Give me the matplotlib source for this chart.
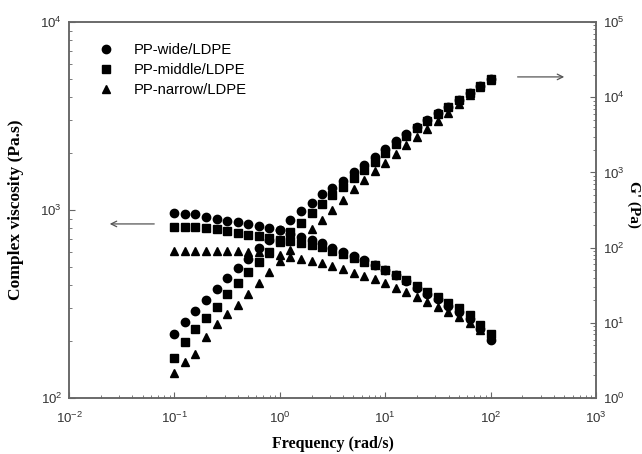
import numpy as np
import matplotlib.pyplot as plt
from matplotlib.ticker import LogLocator, NullFormatter

plt.rcParams['font.family'] = ['Liberation Sans', 'DejaVu Sans']
plt.rcParams['mathtext.default'] = 'regular'

freq = [0.1, 0.126, 0.158, 0.2, 0.251, 0.316, 0.398, 0.501, 0.631, 0.794,
        1.0, 1.26, 1.58, 2.0, 2.51, 3.16, 3.98, 5.01, 6.31, 7.94,
        10.0, 12.6, 15.8, 20.0, 25.1, 31.6, 39.8, 50.1, 63.1, 79.4, 100.0]

# complex viscosity (Pa.s)
eta_wide = [964, 953, 950, 918, 894, 873, 862, 842, 821, 801,
            780, 750, 720, 690, 665, 625, 600, 570, 540, 512,
            480, 450, 417, 386, 358, 335, 307, 287, 262, 232, 203]
eta_middle = [812, 812, 812, 801, 792, 772, 753, 736, 728, 709,
              692, 684, 669, 652, 636, 604, 583, 556, 530, 507,
              480, 453, 422, 393, 367, 346, 320, 301, 278, 246, 218]
eta_narrow = [605, 605, 605, 605, 605, 603, 602, 600, 598, 590,
              576, 562, 548, 535, 522, 503, 485, 462, 446, 430,
              409, 385, 366, 345, 324, 305, 287, 270, 251, 230, 211]

# storage modulus G' (Pa)
g_wide = [7.1, 10.3, 14.4, 20.1, 28.1, 39.4, 53.5, 70.5, 98.8, 126,
          171, 233, 307, 392, 516, 621, 769, 1012, 1254, 1603,
          2070, 2620, 3240, 4020, 4940, 6170, 7410, 9190, 11400, 14000, 17400]
g_middle = [3.4, 5.6, 8.3, 11.6, 16.2, 24.2, 33.8, 47.4, 64.3, 87.4,
            119, 161, 212, 288, 380, 500, 640, 843, 1077, 1375,
            1811, 2390, 3040, 3880, 4800, 5950, 7410, 9190, 11400, 14000, 17400]
g_narrow = [2.15, 3.0, 3.85, 6.5, 9.6, 13.1, 17.3, 24.2, 33.8, 47.4,
            66.4, 93, 126, 177, 233, 316, 430, 601, 793, 1045,
            1334, 1757, 2310, 2960, 3780, 4830, 6170, 8120, 10700, 13700, 17000]

labels = ['PP-wide/LDPE', 'PP-middle/LDPE', 'PP-narrow/LDPE']

fig = plt.figure(figsize=(6.42, 4.54), dpi=100)
ax = fig.add_axes([0.1075, 0.1233, 0.8208, 0.8282])
ax2 = ax.twinx()

ax.plot(freq, eta_wide, 'o', color='black', ms=6, label=labels[0])
ax.plot(freq, eta_middle, 's', color='black', ms=5.5, label=labels[1])
ax.plot(freq, eta_narrow, '^', color='black', ms=6, label=labels[2])
ax2.plot(freq, g_wide, 'o', color='black', ms=6)
ax2.plot(freq, g_middle, 's', color='black', ms=5.5)
ax2.plot(freq, g_narrow, '^', color='black', ms=6)

ax.set_xscale('log')
ax.set_yscale('log')
ax2.set_yscale('log')
ax.set_xlim(1e-2, 1e3)
ax.set_ylim(1e2, 1e4)
ax2.set_ylim(1e0, 1e5)

spine_col = '#666666'
for a in (ax, ax2):
    for s in a.spines.values():
        s.set_color(spine_col)
        s.set_linewidth(1.1)

ax.xaxis.set_major_locator(LogLocator(base=10, numticks=10))
ax.xaxis.set_minor_locator(LogLocator(base=10, subs=np.arange(2, 10), numticks=10))
ax.xaxis.set_minor_formatter(NullFormatter())
ax.yaxis.set_minor_formatter(NullFormatter())
ax2.yaxis.set_minor_locator(LogLocator(base=10, subs=np.arange(2, 10), numticks=10))
ax2.yaxis.set_minor_formatter(NullFormatter())

ax.tick_params(which='both', direction='in', top=False, right=False,
               colors=spine_col, labelcolor='#333333', labelsize=9.5)
ax.tick_params(which='major', length=4)
ax.tick_params(which='minor', length=2.5)
ax.tick_params(axis='x', which='major', pad=9)
ax.tick_params(axis='y', which='major', pad=5)
ax2.tick_params(which='both', direction='in', colors=spine_col,
                labelcolor='#333333', labelsize=9.5)
ax2.tick_params(which='major', length=4, pad=5)
ax2.tick_params(which='minor', length=2.5)

serif = ['Liberation Serif', 'DejaVu Serif']
ax.set_xlabel('Frequency (rad/s)', family=serif, fontweight='bold', fontsize=11.5, va='center')
ax.xaxis.set_label_coords(0.5, -0.122)
ax.set_ylabel('Complex viscosity (Pa.s)', family=serif, fontweight='bold', fontsize=12.5, labelpad=12)
ax2.set_ylabel("G' (Pa)", family=serif, fontweight='bold', fontsize=11, rotation=270, va='center')
ax2.yaxis.set_label_coords(1.072, 0.516)

ax.legend(loc='upper left', bbox_to_anchor=(0.03, 0.96), frameon=False,
          fontsize=10.7, handletextpad=0.9, labelspacing=0.4, borderaxespad=0)

arrow = dict(arrowstyle='->', color='#555555', lw=0.9)
ax.annotate('', xy=(0.072, 0.463), xytext=(0.167, 0.463), xycoords='axes fraction',
            textcoords='axes fraction', arrowprops=arrow)
ax.annotate('', xy=(0.945, 0.854), xytext=(0.846, 0.854), xycoords='axes fraction',
            textcoords='axes fraction', arrowprops=arrow)

fig.savefig('out.png', dpi=100)
